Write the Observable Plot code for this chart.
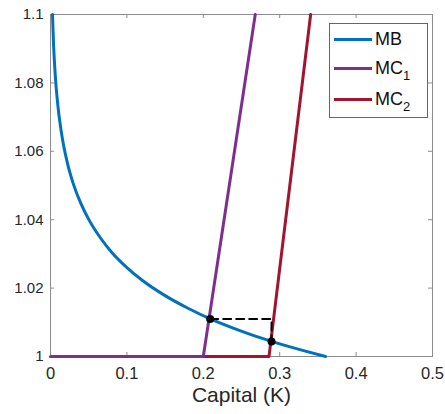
<!DOCTYPE html>
<html>
<head>
<meta charset="utf-8">
<script src="https://cdn.jsdelivr.net/npm/d3@7"></script>
<script src="https://cdn.jsdelivr.net/npm/@observablehq/plot@0.6"></script>
<style>
  body { margin: 0; background: #fff; }
  #wrap { position: relative; width: 445px; height: 414px; font-family: "Liberation Sans", Arial, sans-serif; }
  #legend { position: absolute; left: 329px; top: 23px; width: 97px; height: 93px; border: 1px solid #666; background: #fff; }
  .row { position: absolute; left: 4px; height: 22px; display: flex; align-items: center; }
  .swatch { width: 38px; height: 0; border-top: 3px solid; margin-right: 3px; }
  .lab { font-size: 18px; color: #111; line-height: 22px; }
  .lab sub { font-size: 13px; vertical-align: -6px; line-height: 0; }
</style>
</head>
<body>
<div id="wrap"></div>
<script>
// Tick values
const xTicks = [0, 0.1, 0.2, 0.3, 0.4, 0.5];
const yTicks = [1, 1.02, 1.04, 1.06, 1.08, 1.1];

// Marginal benefit curve
const mbK = [0.0026, 0.004, 0.0065, 0.01, 0.015, 0.022, 0.03, 0.04, 0.05, 0.065, 0.08, 0.1, 0.12, 0.15, 0.18, 0.21, 0.24, 0.27, 0.30, 0.33, 0.36];
const mbV = [1.1, 1.0912, 1.0814, 1.0727, 1.0645, 1.0567, 1.0504, 1.0446, 1.0401, 1.0348, 1.0305, 1.0260, 1.0223, 1.0178, 1.0141, 1.0109, 1.0082, 1.0058, 1.0037, 1.0018, 1.0];

// Marginal cost curves
const mc1K = [0, 0.2, 0.268];
const mc1V = [1, 1, 1.1];
const mc2K = [0.2, 0.286, 0.3405];
const mc2V = [1, 1, 1.1];

// Equilibrium points and dashed connector
const eqK = [0.209, 0.2893];
const eqV = [1.011, 1.0044];
const dashK = [0.209, 0.2893, 0.2893];
const dashV = [1.011, 1.011, 1.0044];

const zip = (ks, vs) => ks.map((k, i) => ({k, v: vs[i]}));
const mb = zip(mbK, mbV), mc1 = zip(mc1K, mc1V), mc2 = zip(mc2K, mc2V);
const eq = zip(eqK, eqV), dash = zip(dashK, dashV);

const xTickLen = 0.5 * 4 / 382;   // ~4px inward ticks
const yTickLen = 0.1 * 4 / 342;

const chart = Plot.plot({
  width: 445, height: 414,
  marginLeft: 50, marginRight: 13, marginTop: 14, marginBottom: 58,
  x: {domain: [0, 0.5]},
  y: {domain: [1, 1.1]},
  style: {fontFamily: "'Liberation Sans', Arial, sans-serif", color: "#262626", background: "#fff"},
  marks: [
    Plot.ruleX(xTicks, {x: d => d, y1: 1, y2: 1 + yTickLen, stroke: "#8c8c8c"}),
    Plot.ruleX(xTicks, {x: d => d, y1: 1.1, y2: 1.1 - yTickLen, stroke: "#8c8c8c"}),
    Plot.ruleY(yTicks, {y: d => d, x1: 0, x2: xTickLen, stroke: "#8c8c8c"}),
    Plot.ruleY(yTicks, {y: d => d, x1: 0.5, x2: 0.5 - xTickLen, stroke: "#8c8c8c"}),
    Plot.frame({stroke: "#8c8c8c"}),
    Plot.line(mb, {x: "k", y: "v", stroke: "#0072BD", strokeWidth: 3, curve: "monotone-x"}),
    Plot.line(mc2, {x: "k", y: "v", stroke: "#A2142F", strokeWidth: 3}),
    Plot.line(mc1, {x: "k", y: "v", stroke: "#7E2F8E", strokeWidth: 3}),
    Plot.line(dash, {x: "k", y: "v", stroke: "#000", strokeWidth: 2, strokeDasharray: "8,5"}),
    Plot.dot(eq, {x: "k", y: "v", r: 4, fill: "#000"}),
    Plot.axisX({ticks: xTicks, tickSize: 0, tickPadding: 11, fontSize: 16.5, label: null, tickFormat: d => String(d)}),
    Plot.axisY({ticks: yTicks, tickSize: 0, tickPadding: 7, fontSize: 15, label: null, tickFormat: d => String(d)}),
    Plot.text(["Capital (K)"], {frameAnchor: "bottom", dy: 45, fontSize: 21, fill: "#262626"})
  ]
});

const wrap = document.getElementById("wrap");
wrap.appendChild(chart);

// Legend overlay (inside the plot box, as in the original)
const legendItems = [
  {name: "MB", sub: "", color: "#0072BD", top: 4},
  {name: "MC", sub: "1", color: "#7E2F8E", top: 33},
  {name: "MC", sub: "2", color: "#A2142F", top: 64}
];
const lg = document.createElement("div");
lg.id = "legend";
for (const it of legendItems) {
  const row = document.createElement("div");
  row.className = "row";
  row.style.top = it.top + "px";
  const sw = document.createElement("div");
  sw.className = "swatch";
  sw.style.borderTopColor = it.color;
  const lab = document.createElement("span");
  lab.className = "lab";
  lab.innerHTML = it.name + (it.sub ? "<sub>" + it.sub + "</sub>" : "");
  row.appendChild(sw);
  row.appendChild(lab);
  lg.appendChild(row);
}
wrap.appendChild(lg);
</script>
</body>
</html>
